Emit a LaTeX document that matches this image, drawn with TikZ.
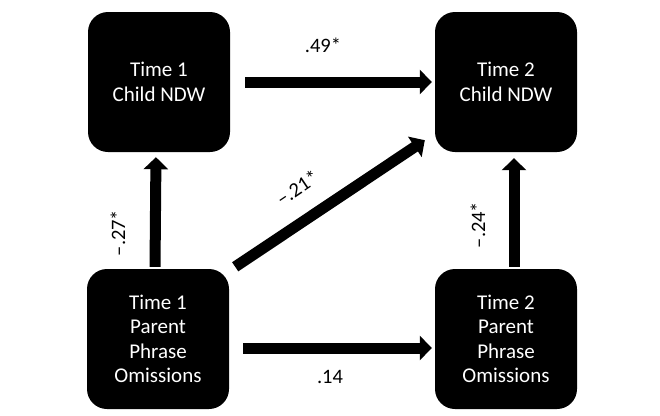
\documentclass[tikz,border=0pt]{standalone}
\usepackage{fontspec}
\setmainfont{Carlito}
\usetikzlibrary{arrows.meta,calc}
\begin{document}
\begin{tikzpicture}[x=1pt,y=-1pt,
 box/.style={fill=black, rounded corners=20pt, minimum width=142pt, minimum height=140pt, text=white, align=center, font=\fontsize{21}{24.5}\selectfont, inner sep=0pt},
 link/.style={line width=11pt, -{Triangle[width=24pt,length=12pt]}},
 lbl/.style={font=\fontsize{20.5}{24}\selectfont, inner sep=0pt}]
\useasboundingbox (0,0) rectangle (660,415);
\node[box] (tl) at (159,82) {Time 1\\Child NDW};
\node[box] (tr) at (506,82) {Time 2\\Child NDW};
\node[box] (bl) at (158,339) {Time 1\\Parent\\Phrase\\Omissions};
\node[box] (br) at (506,339) {Time 2\\Parent\\Phrase\\Omissions};
\draw[link, shorten <=15pt, shorten >=3pt] (tl.east) -- (tr.west);
\draw[link, shorten <=14pt, shorten >=3pt] ([yshift=-9pt]bl.east) -- ([yshift=-9pt]br.west);
\draw[link, shorten <=2pt, shorten >=5pt] ([xshift=-3pt]bl.north) -- ([xshift=-3pt]tl.south);
\draw[link, shorten <=2pt, shorten >=6pt] ([xshift=8pt]br.north) -- ([xshift=8pt]tr.south);
\coordinate (ds) at ($(bl.north east)+(6,-2)$);
\coordinate (de) at ($(tr.south west)+(-10,-12)$);
\draw[link] (ds) -- (de);
\node[lbl] (l1) at (323,45) {.49*};
\node[lbl] (l2) at (330,377) {.14};
\node[lbl, rotate=90] (l3) at (118,233) {--.27*};
\node[lbl, rotate=90] (l4) at (478,225) {--.24*};
\node[lbl, rotate=34] (l5) at (297,188) {--.21*};
\end{tikzpicture}
\end{document}
